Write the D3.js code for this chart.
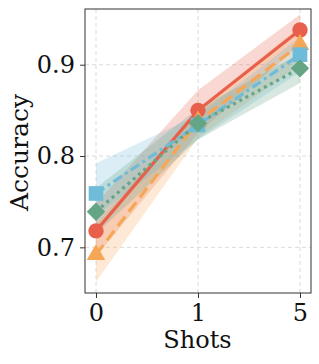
<!DOCTYPE html>
<html>
<head>
<meta charset="utf-8">
<script src="https://cdn.jsdelivr.net/npm/d3@7"></script>
<style>
  body { margin: 0; background: #fff; }
  text { font-family: "DejaVu Serif", serif; }
</style>
</head>
<body>
<svg id="chart" width="319" height="364"></svg>
<script>
const shots = ['0', '1', '5'];
const yTicks = [0.7, 0.8, 0.9];

const redMean = [0.718, 0.850, 0.938];
const redLow = [0.690, 0.825, 0.922];
const redHigh = [0.748, 0.872, 0.955];

const orangeMean = [0.692, 0.838, 0.922];
const orangeLow = [0.662, 0.820, 0.900];
const orangeHigh = [0.725, 0.852, 0.942];

const blueMean = [0.759, 0.834, 0.911];
const blueLow = [0.735, 0.818, 0.892];
const blueHigh = [0.792, 0.845, 0.930];

const greenMean = [0.739, 0.836, 0.896];
const greenLow = [0.715, 0.818, 0.880];
const greenHigh = [0.765, 0.852, 0.912];

// square turned 45 degrees, like matplotlib's 'D'
const squareDiamond = {
  draw(ctx, size) {
    const r = Math.sqrt(size / 2);
    ctx.moveTo(0, -r); ctx.lineTo(r, 0); ctx.lineTo(0, r); ctx.lineTo(-r, 0); ctx.closePath();
  }
};

const series = [
  { mean: redMean, low: redLow, high: redHigh, color: '#e8604c', dash: null, marker: d3.symbolCircle, size: 185 },
  { mean: orangeMean, low: orangeLow, high: orangeHigh, color: '#f6a756', dash: '12,6', marker: d3.symbolTriangle, size: 150 },
  { mean: blueMean, low: blueLow, high: blueHigh, color: '#6ebcd9', dash: '10,4,3,4', marker: d3.symbolSquare, size: 215 },
  { mean: greenMean, low: greenLow, high: greenHigh, color: '#63a584', dash: '3,4', marker: squareDiamond, size: 170 }
];

const svg = d3.select('#chart');
const mLeft = 85, mRight = 311, mTop = 9, mBottom = 293;

const x = d3.scalePoint().domain(shots).range([96, 300]);
const y = d3.scaleLinear().domain([0.650, 0.961]).range([mBottom, mTop]);

// grid
svg.append('g').selectAll('line').data(yTicks).enter().append('line')
  .attr('x1', mLeft).attr('x2', mRight)
  .attr('y1', d => y(d)).attr('y2', d => y(d))
  .attr('stroke', '#d0d0d0').attr('stroke-dasharray', '4,3').attr('stroke-width', 0.8);
svg.append('g').selectAll('line').data(shots).enter().append('line')
  .attr('y1', mTop).attr('y2', mBottom)
  .attr('x1', d => x(d)).attr('x2', d => x(d))
  .attr('stroke', '#d0d0d0').attr('stroke-dasharray', '4,3').attr('stroke-width', 0.8);

// bands
series.forEach(s => {
  const area = d3.area()
    .x((d, i) => x(shots[i]))
    .y0((d, i) => y(s.low[i]))
    .y1((d, i) => y(s.high[i]));
  svg.append('path').datum(s.mean).attr('d', area)
    .attr('fill', s.color).attr('fill-opacity', 0.25);
});

// lines
series.forEach(s => {
  const line = d3.line().x((d, i) => x(shots[i])).y(d => y(d));
  svg.append('path').datum(s.mean).attr('d', line)
    .attr('fill', 'none').attr('stroke', s.color).attr('stroke-width', 3.2)
    .attr('stroke-dasharray', s.dash);
});

// markers
series.forEach(s => {
  svg.append('g').selectAll('path').data(s.mean).enter().append('path')
    .attr('d', d3.symbol().type(s.marker).size(s.size))
    .attr('transform', (d, i) => `translate(${x(shots[i])},${y(d)})`)
    .attr('fill', s.color);
});

// frame
svg.append('rect').attr('x', mLeft).attr('y', mTop)
  .attr('width', mRight - mLeft).attr('height', mBottom - mTop)
  .attr('fill', 'none').attr('stroke', '#333').attr('stroke-width', 1);

// axes
const yAxis = svg.append('g').attr('transform', `translate(${mLeft},0)`)
  .call(d3.axisLeft(y).tickValues(yTicks).tickSize(5).tickPadding(5).tickFormat(d3.format('.1f')));
const xAxis = svg.append('g').attr('transform', `translate(0,${mBottom})`)
  .call(d3.axisBottom(x).tickSize(5).tickPadding(6));
[xAxis, yAxis].forEach(a => {
  a.select('.domain').remove();
  a.selectAll('line').attr('stroke', '#333');
  a.selectAll('text').attr('font-size', 24).attr('fill', '#111')
    .style('font-family', '"DejaVu Serif", serif');
});

svg.append('text').attr('x', 197.5).attr('y', 348)
  .attr('text-anchor', 'middle').attr('font-size', 24).attr('fill', '#111').text('Shots');
svg.append('text').attr('transform', 'translate(28,152.5) rotate(-90)')
  .attr('text-anchor', 'middle').attr('font-size', 25).attr('fill', '#111').text('Accuracy');
</script>
</body>
</html>
